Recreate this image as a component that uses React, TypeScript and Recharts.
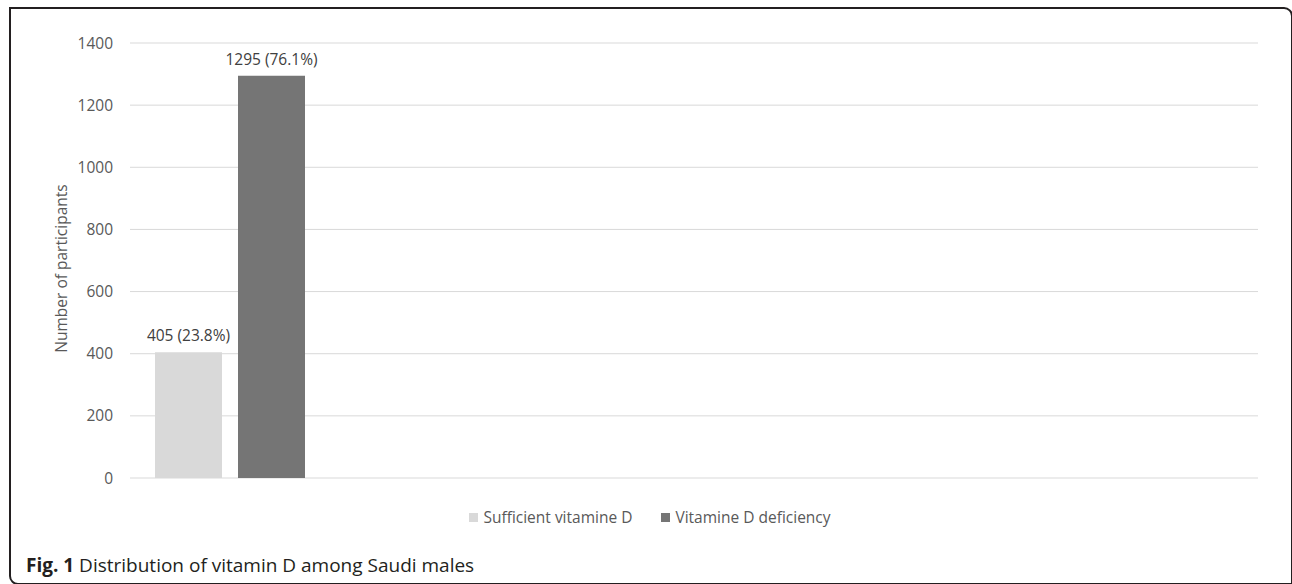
import React from 'react';
import { BarChart, Bar, XAxis, YAxis, CartesianGrid, Legend, LabelList } from 'recharts';

const categories = ['Saudi males'];
const sufficientValues = [405];
const deficiencyValues = [1295];
const sufficientPct = ['23.8%'];
const deficiencyPct = ['76.1%'];
const yTicks = [0, 200, 400, 600, 800, 1000, 1200, 1400];

const data = categories.map((c, i) => ({
  name: c,
  sufficient: sufficientValues[i],
  deficiency: deficiencyValues[i],
  sufficientPct: sufficientPct[i],
  deficiencyPct: deficiencyPct[i],
}));

const FONT = '"Open Sans", "Noto Sans", sans-serif';

const legendContent = (props: any) => {
  const { payload } = props;
  return (
    <div style={{ display: 'flex', justifyContent: 'center', height: 20, lineHeight: '20px', margin: 0, padding: 0 }}>
      {payload.map((entry: any, i: number) => (
        <div key={i} style={{ display: 'flex', alignItems: 'center', marginLeft: i === 0 ? 0 : 29 }}>
          <span style={{ display: 'inline-block', width: 9, height: 9, background: entry.color, marginRight: 5 }} />
          <span style={{ color: '#595959', fontSize: 15.5, fontFamily: FONT }}>{entry.value}</span>
        </div>
      ))}
    </div>
  );
};

const makeLabel = (pcts: string[]) => (props: any) => {
  const { x, y, width, value, index } = props;
  return (
    <text
      x={Number(x) + Number(width) / 2}
      y={Number(y) - 11}
      textAnchor="middle"
      fill="#404040"
      fontSize={15.5}
      fontFamily={FONT}
    >
      {`${value} (${pcts[index ?? 0]})`}
    </text>
  );
};

export default function App() {
  return (
    <div style={{ position: 'absolute', left: 0, top: 0, width: 1292, height: 584, background: '#fff', overflow: 'hidden' }}>
      <div
        style={{
          position: 'absolute',
          left: 9,
          top: 7,
          width: 1284,
          height: 578,
          boxSizing: 'border-box',
          border: '2px solid #231f20',
          borderTopRightRadius: 9,
          borderBottomLeftRadius: 9,
        }}
      />
      <div style={{ position: 'absolute', left: 4, top: 0 }}>
        <BarChart
          width={1292}
          height={540}
          data={data}
          margin={{ top: 43, right: 38, bottom: 13, left: 0 }}
          barSize={67}
          barGap={16}
        >
          <CartesianGrid vertical={false} stroke="#d9d9d9" strokeWidth={1} />
          <XAxis
            dataKey="name"
            height={29}
            tick={false}
            tickLine={false}
            axisLine={false}
            padding={{ left: 0, right: 928 }}
          />
          <YAxis
            width={126}
            domain={[0, 1400]}
            ticks={yTicks}
            tickLine={false}
            axisLine={false}
            tickMargin={11}
            tick={{ fill: '#595959', fontSize: 15.5, fontFamily: FONT }}
            label={{
              value: 'Number of participants',
              angle: -90,
              position: 'center',
              dx: -6,
              dy: 8,
              style: { fill: '#595959', fontSize: 15.5, fontFamily: FONT, textAnchor: 'middle' },
            }}
          />
          <Legend verticalAlign="bottom" align="center" content={legendContent} wrapperStyle={{ left: 19 }} />
          <Bar dataKey="sufficient" name="Sufficient vitamine D" fill="#d9d9d9" isAnimationActive={false}>
            <LabelList dataKey="sufficient" content={makeLabel(sufficientPct)} />
          </Bar>
          <Bar dataKey="deficiency" name="Vitamine D deficiency" fill="#757575" isAnimationActive={false}>
            <LabelList dataKey="deficiency" content={makeLabel(deficiencyPct)} />
          </Bar>
        </BarChart>
      </div>
      <div
        style={{
          position: 'absolute',
          left: 26,
          top: 554,
          fontFamily: FONT,
          fontSize: 19,
          lineHeight: '22px',
          color: '#231f20',
          whiteSpace: 'nowrap',
        }}
      >
        <b>Fig. 1</b> Distribution of vitamin D among Saudi males
      </div>
    </div>
  );
}
